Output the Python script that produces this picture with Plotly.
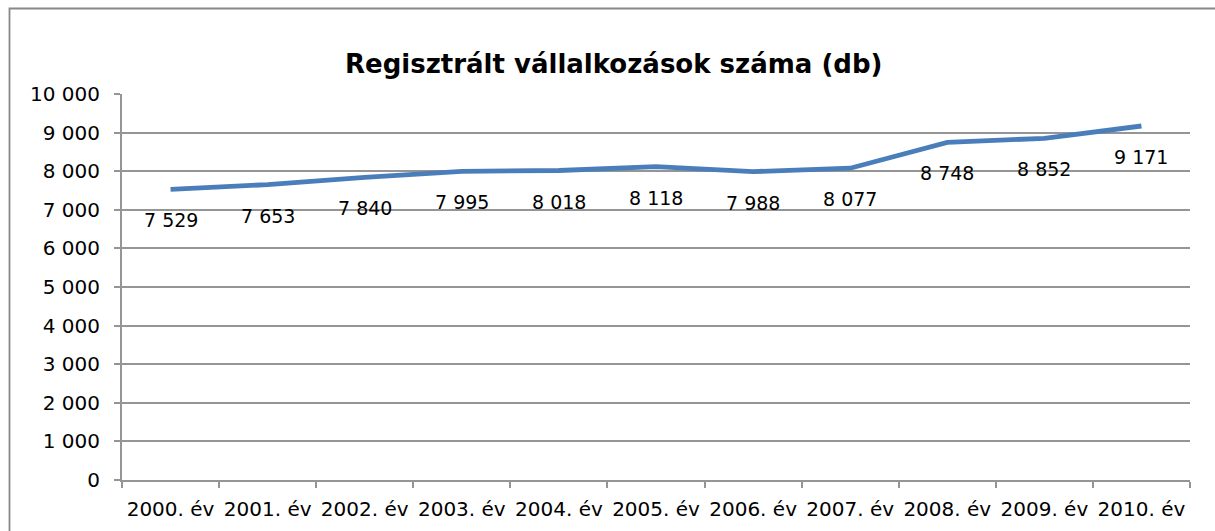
import plotly.graph_objects as go

years = ["2000. év", "2001. év", "2002. év", "2003. év", "2004. év", "2005. év",
         "2006. év", "2007. év", "2008. év", "2009. év", "2010. év"]
counts = [7529, 7653, 7840, 7995, 8018, 8118, 7988, 8077, 8748, 8852, 9171]
title_text = "Regisztrált vállalkozások száma (db)"

FONT = "DejaVu Sans"
GRID = "#959595"

L, R, T, B = 122, 25, 94, 51
W, H = 1215, 531
pw, ph = W - L - R, H - T - B

def px2paper_x(px):
    return (px - L) / pw

def px2paper_y(py):
    return (H - B - py) / ph

fig = go.Figure()
fig.add_trace(go.Scatter(
    x=years, y=counts, mode="lines",
    line=dict(color="#4a7ebb", width=4.8),
    hoverinfo="skip", showlegend=False,
))

for yr, v in zip(years, counts):
    fig.add_annotation(
        x=yr, y=v, xref="x", yref="y",
        text=f"{v:,}".replace(",", " "),
        showarrow=False, yshift=-31,
        font=dict(family=FONT, size=19, color="#000000"),
    )

fig.add_annotation(
    x=px2paper_x(613), y=px2paper_y(47), xref="paper", yref="paper",
    text=f"<b>{title_text}</b>", showarrow=False,
    font=dict(family=FONT, size=26, color="#000000"),
)

# chart frame
fig.add_shape(
    type="rect", xref="paper", yref="paper",
    x0=px2paper_x(9.5), y0=px2paper_y(560), x1=px2paper_x(1240), y1=px2paper_y(8.5),
    line=dict(color="#888888", width=1.8), fillcolor="rgba(0,0,0,0)", layer="below",
)

fig.update_layout(
    width=W, height=H,
    margin=dict(l=L, r=R, t=T, b=B, autoexpand=False),
    paper_bgcolor="white", plot_bgcolor="white",
    separators=", ",
    font=dict(family=FONT, size=20, color="#000000"),
    xaxis=dict(
        type="category", tickson="boundaries", ticks="outside", ticklen=6,
        tickcolor=GRID, tickwidth=2, showline=True, linecolor=GRID, linewidth=2,
        showgrid=False, tickfont=dict(family=FONT, size=20, color="#000000"),
        range=[-0.5, len(years) - 0.5], fixedrange=True,
        ticklabelstandoff=10, tickangle=0, automargin=False,
    ),
    yaxis=dict(
        range=[0, 10000], dtick=1000, tick0=0, tickformat=",d",
        ticks="outside", ticklen=6, tickcolor=GRID, tickwidth=2,
        showline=True, linecolor=GRID, linewidth=2,
        showgrid=True, gridcolor=GRID, gridwidth=2,
        tickfont=dict(family=FONT, size=20, color="#000000"),
        zeroline=False, fixedrange=True,
        ticklabelstandoff=10, automargin=False,
    ),
)

fig.write_html(
    "out.html",
    config={"displayModeBar": False, "staticPlot": True},
    post_script="document.body.style.margin='0';document.body.style.overflow='hidden';",
)
